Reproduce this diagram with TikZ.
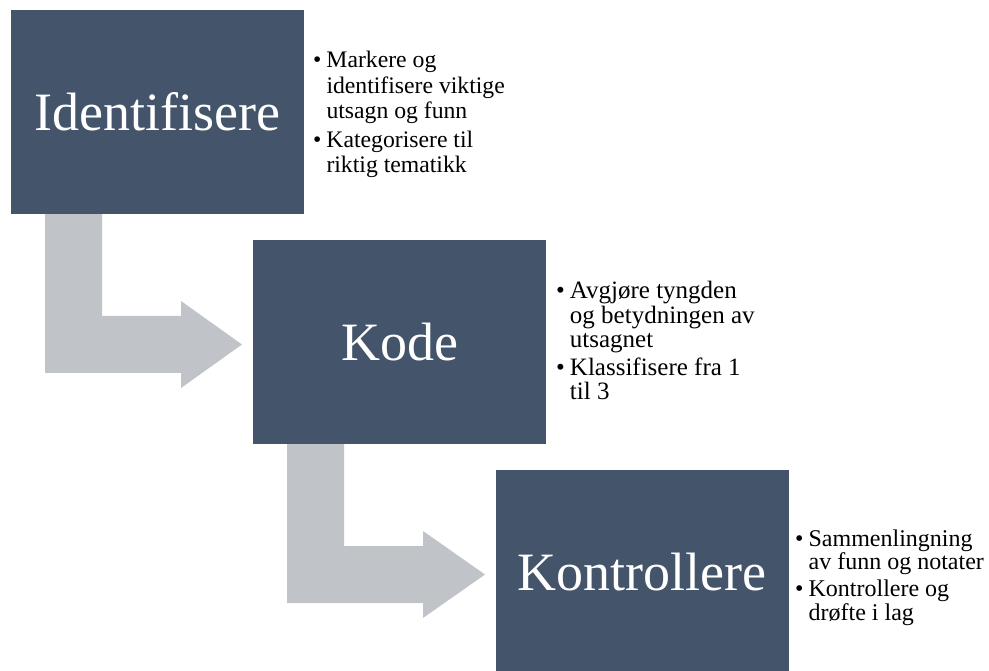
\documentclass[tikz,border=0pt]{standalone}
\usepackage{fontspec}
\setmainfont{Liberation Serif}
\definecolor{slate}{RGB}{68,84,106}
\definecolor{bendgray}{RGB}{192,196,201}
\tikzset{
  stagebox/.style={fill=slate, draw=none, minimum width=293pt, minimum height=204pt,
    inner sep=0pt, text=white, font=\fontsize{54}{60}\selectfont},
  bendarrow/.style={fill=bendgray, draw=none},
  notes/.style={anchor=base west, inner sep=0pt, text=black},
}
\newcommand{\notelist}[2]{\fontsize{#1}{#2}\selectfont\begin{tabular}[t]{@{}l@{\hspace{5pt}}l@{}}}
\newcommand{\notesend}{\end{tabular}}
\begin{document}
\begin{tikzpicture}[x=1pt, y=-1pt]
  \useasboundingbox (0,0) rectangle (989,671);
  \clip (0,0) rectangle (989,671);

  % bent arrows linking the stages
  \fill[bendarrow] (45,214) -- (102,214) -- (102,316) -- (181,316) -- (181,301)
    -- (242,344.5) -- (181,388) -- (181,373) -- (45,373) -- cycle;
  \fill[bendarrow] (287,444) -- (344,444) -- (344,546) -- (423,546) -- (423,531)
    -- (485,574.5) -- (423,618) -- (423,603) -- (287,603) -- cycle;

  % stage boxes
  \node[stagebox] (s1) at (157.5,112) {Identifisere};
  \node[stagebox] (s2) at (399.5,342) {Kode};
  \node[stagebox] (s3) at (642,572) {Kontrollere};

  % notes beside each stage
  \node[notes] (n1) at (313,68) {\notelist{23.7}{25.5}
    • & Markere og\\
      & identifisere viktige\\
      & utsagn og funn\\[3pt]
    • & Kategorisere til\\
      & riktig tematikk
    \notesend};
  \node[notes] (n2) at (556,299) {\notelist{25}{24}
    • & Avgjøre tyngden\\
      & og betydningen av\\
      & utsagnet\\[3pt]
    • & Klassifisere fra 1\\
      & til 3
    \notesend};
  \node[notes] (n3) at (795,546) {\notelist{24}{23.5}
    • & Sammenlingning\\
      & av funn og notater\\[3pt]
    • & Kontrollere og\\
      & drøfte i lag
    \notesend};
\end{tikzpicture}
\end{document}
